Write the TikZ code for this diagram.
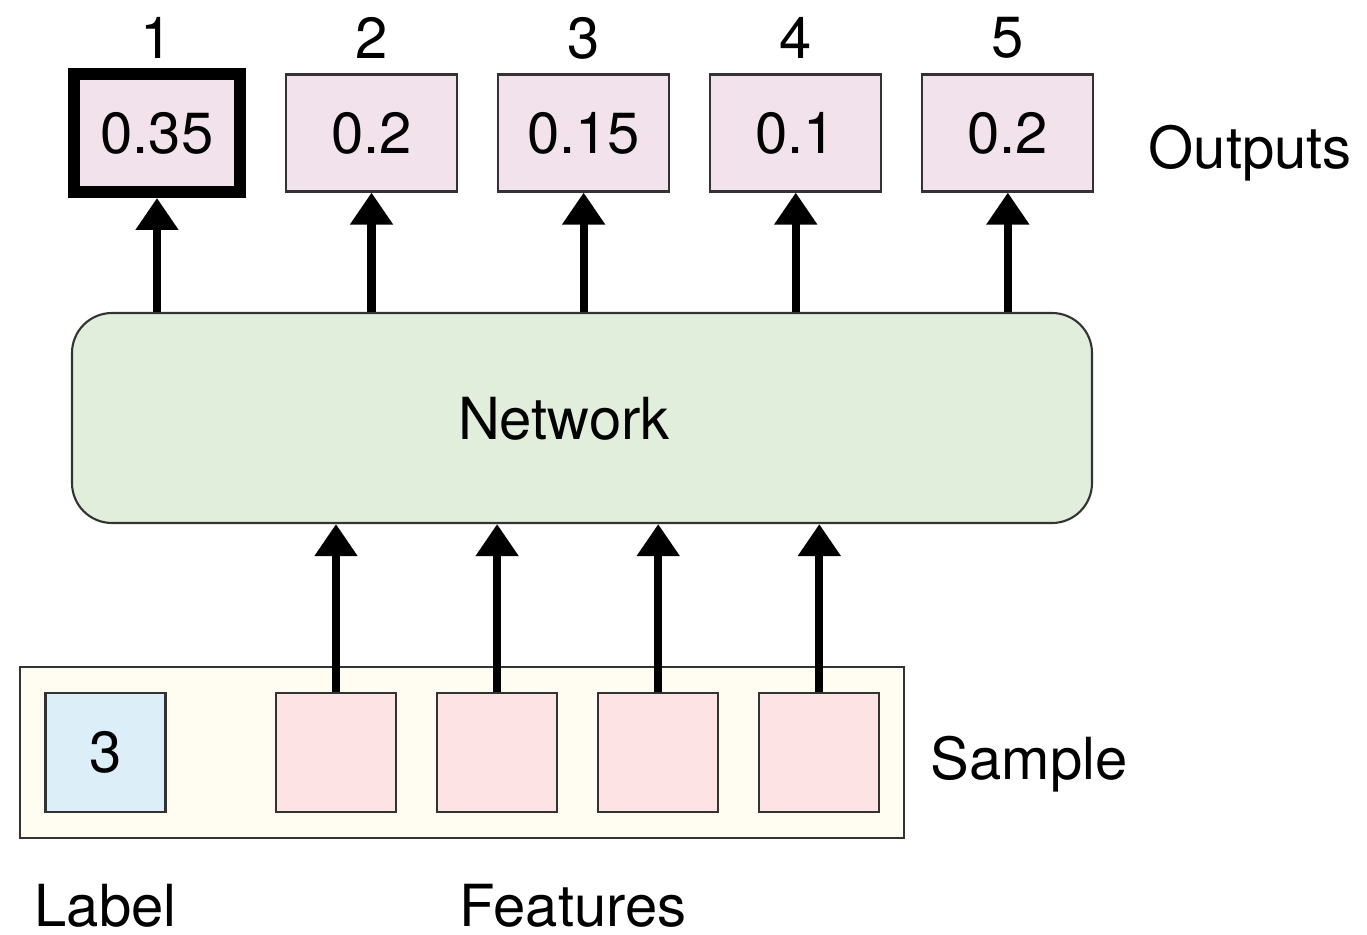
\documentclass[tikz,border=0pt]{standalone}
\usepackage{fontspec}
\setsansfont{TeX Gyre Heros}
\usepackage{xcolor}
\definecolor{outpink}{HTML}{F2E2EC}
\definecolor{netgreen}{HTML}{E2EEDC}
\definecolor{samplecream}{HTML}{FFFDF1}
\definecolor{labelblue}{HTML}{DCEEF8}
\definecolor{featpink}{HTML}{FDE3E4}
\definecolor{edgegray}{HTML}{333333}
\usepackage{tikz}
\usetikzlibrary{arrows.meta,positioning,fit,backgrounds}

\begin{document}
\begin{tikzpicture}[
  node distance=0.39cm,
  every node/.style={font=\fontsize{16.5}{20}\selectfont\sffamily},
  outbox/.style={rectangle,draw=edgegray,line width=0.6pt,fill=outpink,minimum width=1.71cm,minimum height=1.17cm,inner sep=0pt},
  inbox/.style={rectangle,draw=edgegray,line width=0.6pt,minimum width=1.2cm,minimum height=1.19cm,inner sep=0pt},
  arr/.style={-{Triangle[width=0.41cm,length=0.32cm]},line width=2.3pt},
]
\useasboundingbox (0,0) rectangle (13.67,-9.35);

% outputs
\node[outbox,draw=black,line width=3.4pt,minimum width=1.66cm,minimum height=1.18cm] (o1) at (1.57,-1.33) {0.35};
\node[outbox,right=of o1] (o2) {0.2};
\node[outbox,right=of o2] (o3) {0.15};
\node[outbox,right=of o3] (o4) {0.1};
\node[outbox,right=of o4] (o5) {0.2};
\node (n1) at (o1 |- 0,-0.38) {1};
\node (n2) at (o2 |- 0,-0.38) {2};
\node (n3) at (o3 |- 0,-0.38) {3};
\node (n4) at (o4 |- 0,-0.38) {4};
\node (n5) at (o5 |- 0,-0.38) {5};
\node[right=0.42cm of o5,yshift=-0.2cm] (outputs) {Outputs};

% network
\node[draw=edgegray,line width=0.6pt,fill=netgreen,rounded corners=0.4cm,minimum width=10.2cm,minimum height=2.1cm,text depth=0pt] (net) at (5.82,-4.18) {\hspace*{-0.36cm}Network};

% sample
\node[inbox,fill=labelblue] (lbl) at (1.055,-7.525) {3};
\node[inbox,fill=featpink] (f1) at (3.36,-7.525) {};
\node[inbox,fill=featpink,right=0.39cm of f1] (f2) {};
\node[inbox,fill=featpink,right=0.39cm of f2] (f3) {};
\node[inbox,fill=featpink,right=0.39cm of f3] (f4) {};
\begin{scope}[on background layer]
\node[draw=edgegray,line width=0.6pt,fill=samplecream,fit=(lbl)(f4),inner xsep=0.24cm,inner ysep=0.25cm] (sample) {};
\end{scope}
\node[right=0.13cm of sample,yshift=-0.12cm] (sampletext) {Sample};
\node (labeltext) at (lbl |- 0,-9.06) {Label};
\node (featuretext) at (5.73,-9.06) {Features};

\draw[arr] (f1) -- (f1 |- net.south);
\draw[arr] (f2) -- (f2 |- net.south);
\draw[arr] (f3) -- (f3 |- net.south);
\draw[arr] (f4) -- (f4 |- net.south);
\draw[arr] (net.north -| o1) -- (o1);
\draw[arr] (net.north -| o2) -- (o2);
\draw[arr] (net.north -| o3) -- (o3);
\draw[arr] (net.north -| o4) -- (o4);
\draw[arr] (net.north -| o5) -- (o5);
\end{tikzpicture}
\end{document}
